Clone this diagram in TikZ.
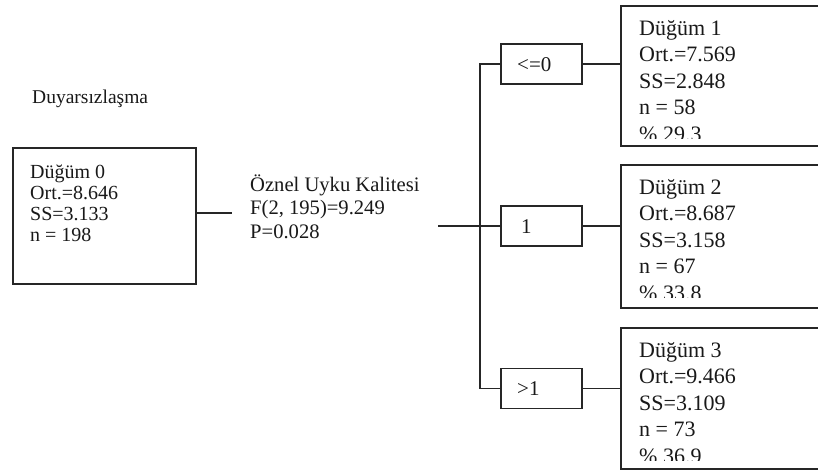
\documentclass[tikz,border=0pt]{standalone}
\usepackage{fontspec}
\setmainfont{Liberation Serif}
\begin{document}
\begin{tikzpicture}[x=1pt,y=-1pt,
  frame/.style={draw=black!85, line width=1.5pt, inner sep=0pt, anchor=north west},
  conn/.style={draw=black!85, line width=1.5pt},
  rtext/.style={font=\fontsize{22}{26.5}\selectfont, align=left, inner sep=0pt, anchor=base west, text=black!90},
  ltext/.style={font=\fontsize{20}{23.3}\selectfont, align=left, inner sep=0pt, anchor=base west, text=black!90},
  cond/.style={draw=black!85, line width=1.5pt, inner sep=0pt, minimum width=81pt, minimum height=40pt, anchor=west},
  ctext/.style={font=\fontsize{21}{25}\selectfont, inner sep=0pt, anchor=base west, text=black!90}]
\path[use as bounding box, clip] (0,0) rectangle (818,472);
\fill[white] (0,0) rectangle (818,472);

% title
\node[font=\fontsize{19.5}{23}\selectfont, inner sep=0pt, anchor=base west, text=black!90] (title) at (32,103) {Duyarsızlaşma};

% root node
\node[frame, minimum width=183pt, minimum height=136pt] (n0) at (12,147) {};
\node[ltext, font=\fontsize{20}{21}\selectfont] (t0) at (30,241) {Düğüm 0\\Ort.=8.646\\SS=3.133\\n = 198};

% split label
\node[ltext, font=\fontsize{20.6}{23.3}\selectfont] (lab) at (250,238) {Öznel Uyku Kalitesi\\F(2, 195)=9.249\\P=0.028};

\coordinate (c0) at (232,213);
\draw[conn] (n0.east |- c0) -- (c0);

% condition boxes
\node[cond] (b1) at (500,64) {};
\node[cond] (b2) at (500,226) {};
\node[cond] (b3) at (500,388.5) {};
\node[ctext] (l1) at (517,71) {<=0};
\node[ctext] (l2) at (521,233) {1};
\node[ctext] (l3) at (517,395.5) {>1};

\coordinate (c1) at (438,226);
\coordinate (jt) at (480,64);
\coordinate (jb) at (480,388.5);
\draw[conn] (c1) -- (b2.west);
\draw[conn] (b1.west) -- (jt) -- (jb) -- (b3.west);

% child nodes
\node[frame, minimum width=230pt, minimum height=140pt] (n1) at (620,5) {};
\node[frame, minimum width=230pt, minimum height=143pt] (n2) at (620,164) {};
\node[frame, minimum width=230pt, minimum height=141pt] (n3) at (620,327) {};

\draw[conn] (b1.east) -- (b1.east -| n1.west);
\draw[conn] (b2.east) -- (b2.east -| n2.west);
\draw[conn] (b3.east) -- (b3.east -| n3.west);

\begin{scope}
\clip (621,6) rectangle (818,138);
\node[rtext] (t1) at (639,141) {Düğüm 1\\Ort.=7.569\\SS=2.848\\n = 58\\\% 29.3};
\end{scope}
\begin{scope}
\clip (621,165) rectangle (818,297);
\node[rtext] (t2) at (639,300) {Düğüm 2\\Ort.=8.687\\SS=3.158\\n = 67\\\% 33.8};
\end{scope}
\begin{scope}
\clip (621,328) rectangle (818,460);
\node[rtext] (t3) at (639,463) {Düğüm 3\\Ort.=9.466\\SS=3.109\\n = 73\\\% 36.9};
\end{scope}
\end{tikzpicture}
\end{document}
